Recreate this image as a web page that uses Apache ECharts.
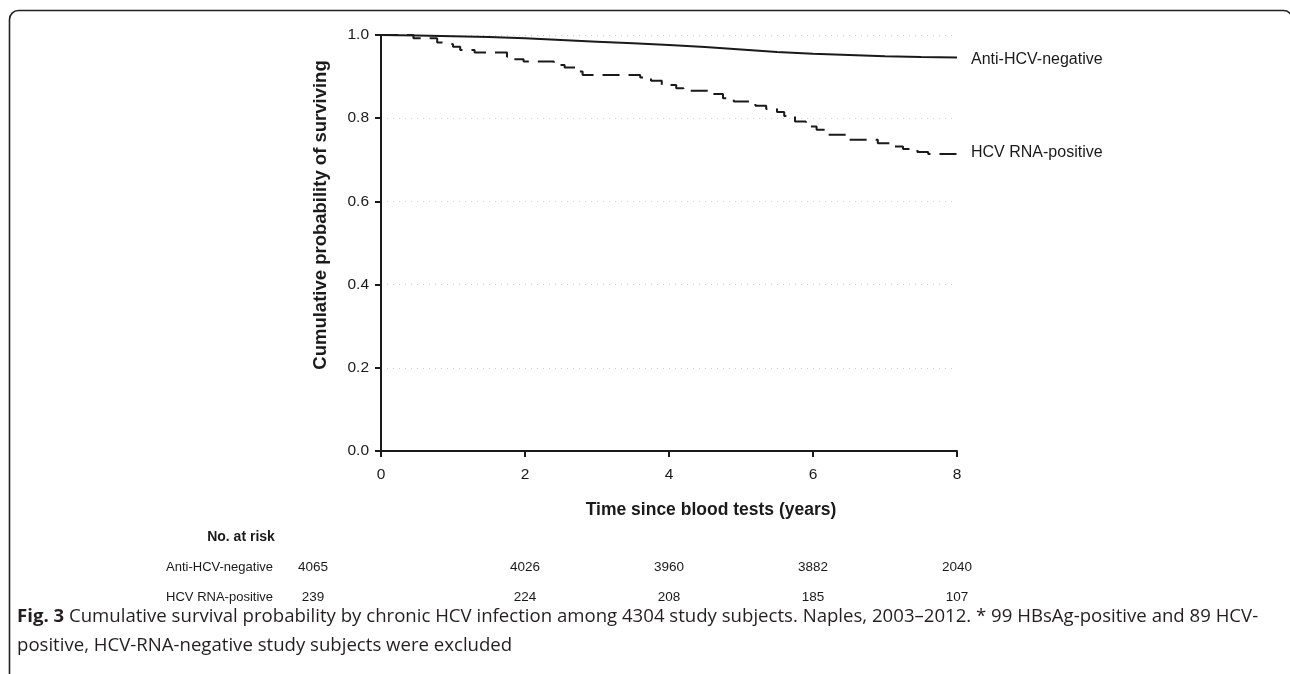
<!DOCTYPE html>
<html>
<head>
<meta charset="utf-8">
<script src="https://cdn.jsdelivr.net/npm/echarts@6/dist/echarts.min.js"></script>
<style>
html,body{margin:0;padding:0;background:#fff;}
#main{width:1290px;height:674px;}
</style>
</head>
<body>
<div id="main"></div>
<script>
// ---- data ----
const yTicks = [0, 0.2, 0.4, 0.6, 0.8, 1.0];
const xTicks = [0, 2, 4, 6, 8];
const seriesNames = ['Anti-HCV-negative', 'HCV RNA-positive'];
// Anti-HCV-negative survival [years, probability]
const antiNegTime = [0, 0.5, 1, 1.5, 2, 2.5, 3, 3.5, 4, 4.5, 5, 5.5, 6, 6.5, 7, 7.5, 8];
const antiNegSurv = [1.0, 0.999, 0.997, 0.995, 0.992, 0.988, 0.984, 0.980, 0.976, 0.971, 0.965, 0.959, 0.955, 0.952, 0.949, 0.947, 0.946];
// HCV RNA-positive Kaplan-Meier steps [years, probability]
const rnaPosTime = [0, 0.45, 0.78, 0.9, 1.0, 1.1, 1.3, 1.75, 1.85, 1.98, 2.4, 2.55, 2.7, 2.8, 3.6, 3.75, 3.9, 4.1, 4.2, 4.6, 4.75, 4.9, 5.2, 5.35, 5.5, 5.6, 5.75, 5.9, 6.05, 6.2, 6.5, 6.9, 7.1, 7.25, 7.45, 7.6, 8.0];
const rnaPosSurv = [1.0, 0.992, 0.982, 0.978, 0.972, 0.964, 0.958, 0.948, 0.942, 0.936, 0.928, 0.922, 0.912, 0.904, 0.898, 0.890, 0.880, 0.872, 0.866, 0.858, 0.848, 0.840, 0.830, 0.822, 0.815, 0.805, 0.792, 0.780, 0.772, 0.760, 0.748, 0.740, 0.732, 0.726, 0.719, 0.714, 0.714];
// Numbers at risk
const riskTimes = [0, 2, 4, 6, 8];
const riskAntiNeg = [4065, 4026, 3960, 3882, 2040];
const riskRnaPos = [239, 224, 208, 185, 107];
// Text
const yTitle = 'Cumulative probability of surviving';
const xTitle = 'Time since blood tests (years)';
const riskTitle = 'No. at risk';
const captionBold = 'Fig. 3';
const captionLine1 = ' Cumulative survival probability by chronic HCV infection among 4304 study subjects. Naples, 2003\u20132012. * 99 HBsAg-positive and 89 HCV-';
const captionLine2 = 'positive, HCV-RNA-negative study subjects were excluded';

const zip = (a, b) => a.map((v, i) => [v, b[i]]);

const chart = echarts.init(document.getElementById('main'), null, {renderer: 'canvas'});
const FONT = '"Liberation Sans", Arial, sans-serif';
const INK = '#1a1a1a';

const option = {
  animation: false,
  backgroundColor: '#fff',
  grid: {left: 381, right: 333, top: 35, bottom: 223, containLabel: false},
  xAxis: {
    type: 'value', min: 0, max: 8, interval: 2,
    axisLine: {show: true, onZero: false, lineStyle: {color: INK, width: 2}},
    axisTick: {show: true, inside: false, length: 6, lineStyle: {color: INK, width: 2}},
    axisLabel: {color: INK, fontFamily: FONT, fontSize: 15.5, margin: 16},
    splitLine: {show: false}
  },
  yAxis: {
    type: 'value', min: 0, max: 1, interval: 0.2,
    axisLine: {show: true, lineStyle: {color: INK, width: 2}},
    axisTick: {show: true, inside: false, length: 6, lineStyle: {color: INK, width: 2}},
    axisLabel: {color: INK, fontFamily: FONT, fontSize: 15.5, margin: 12, formatter: v => v.toFixed(1)},
    splitLine: {show: true, lineStyle: {color: '#cfcfcf', width: 1, type: [1, 5]}}
  },
  series: [
    {
      name: seriesNames[0], type: 'line', data: zip(antiNegTime, antiNegSurv),
      showSymbol: false, symbol: 'none', smooth: false,
      lineStyle: {color: INK, width: 2},
      endLabel: {show: true, formatter: '{a}', color: INK, fontFamily: FONT, fontSize: 16, distance: 14, offset: [0, 2]},
      z: 3
    },
    {
      name: seriesNames[1], type: 'line', data: zip(rnaPosTime, rnaPosSurv),
      step: 'end', showSymbol: false, symbol: 'none',
      lineStyle: {color: INK, width: 2, type: [17, 9]},
      endLabel: {show: true, formatter: '{a}', color: INK, fontFamily: FONT, fontSize: 16, distance: 14, offset: [0, -1]},
      z: 3
    }
  ]
};
chart.setOption(option);

function px(t) { return chart.convertToPixel({xAxisIndex: 0}, t); }
function py(v) { return chart.convertToPixel({yAxisIndex: 0}, v); }

const g = [];
// frame
g.push({type: 'rect', shape: {x: 9.5, y: 10.5, width: 1283, height: 720, r: 9},
  style: {fill: 'none', stroke: '#222', lineWidth: 1.6}, silent: true, z: 0});
// y axis title
g.push({type: 'text', x: 321, y: 215, rotation: Math.PI / 2,
  style: {text: yTitle, font: 'bold 18.5px ' + FONT, fill: INK, align: 'center', verticalAlign: 'middle'}});
// x axis title
g.push({type: 'text', x: (px(0) + px(8)) / 2 + 42, y: 510,
  style: {text: xTitle, font: 'bold 17.5px ' + FONT, fill: INK, align: 'center', verticalAlign: 'middle'}});
// risk table
g.push({type: 'text', x: 241, y: 537,
  style: {text: riskTitle, font: 'bold 14px ' + FONT, fill: INK, align: 'center', verticalAlign: 'middle'}});
const rows = [[seriesNames[0], riskAntiNeg, 567], [seriesNames[1], riskRnaPos, 597]];
rows.forEach(([label, vals, y]) => {
  g.push({type: 'text', x: 273, y: y,
    style: {text: label, font: '13px ' + FONT, fill: INK, align: 'right', verticalAlign: 'middle'}});
  vals.forEach((v, i) => {
    const x = i === 0 ? px(riskTimes[0]) - 68 : px(riskTimes[i]);
    g.push({type: 'text', x: x, y: y,
      style: {text: String(v), font: '13.5px ' + FONT, fill: INK, align: 'center', verticalAlign: 'middle'}});
  });
});
// caption
const CAPF = '"Open Sans", "Noto Sans", sans-serif';
g.push({type: 'text', x: 17, y: 617,
  style: {text: '{b|' + captionBold + '}{r|' + captionLine1 + '}', verticalAlign: 'middle', align: 'left',
    rich: {b: {fontFamily: CAPF, fontWeight: 'bold', fontSize: 18.6, fill: '#231f20', color: '#231f20'},
           r: {fontFamily: CAPF, fontSize: 18.6, fill: '#231f20', color: '#231f20'}}}});
g.push({type: 'text', x: 17, y: 646,
  style: {text: captionLine2, font: '18.6px ' + CAPF, fill: '#231f20', align: 'left', verticalAlign: 'middle'}});

chart.setOption({graphic: g});
</script>
</body>
</html>
